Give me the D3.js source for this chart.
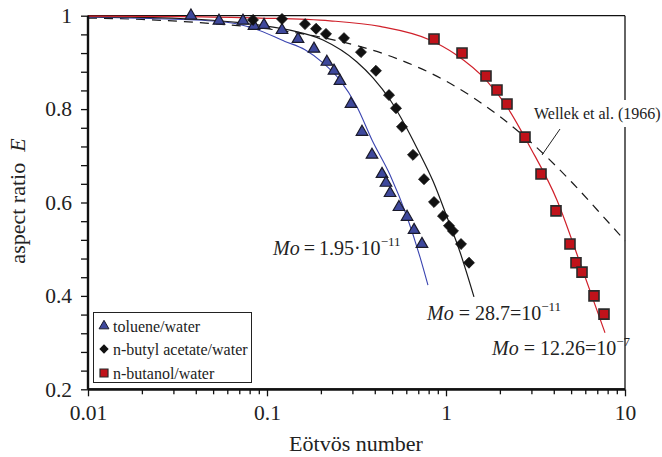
<!DOCTYPE html>
<html><head><meta charset="utf-8">
<script src="https://cdn.jsdelivr.net/npm/d3@7"></script>
<style>
body{margin:0;background:#fff} svg{display:block}
svg text{font-family:"Liberation Serif","Tinos","Times New Roman","DejaVu Serif",serif;}
</style>
</head><body><svg id="c" width="662" height="457"></svg>
<script>
// ---- data ----
const tolueneEo = [0.0376,0.0539,0.0734,0.0846,0.0962,0.1213,0.149,0.183,0.216,0.2367,0.2557,0.2946,0.3394,0.386,0.439,0.462,0.487,0.546,0.606,0.663,0.734];
const tolueneE  = [1.0,0.989,0.989,0.978,0.980,0.969,0.950,0.929,0.901,0.882,0.860,0.811,0.751,0.702,0.661,0.642,0.620,0.590,0.569,0.541,0.511];
const acetateEo = [0.0835,0.1213,0.163,0.188,0.2136,0.2693,0.335,0.406,0.4805,0.5256,0.5677,0.654,0.7536,0.857,0.962,1.039,1.094,1.213,1.344];
const acetateE  = [0.991,0.993,0.982,0.972,0.961,0.952,0.922,0.882,0.830,0.802,0.762,0.702,0.650,0.601,0.571,0.550,0.539,0.511,0.471];
const butanolEo = [0.857,1.229,1.673,1.927,2.192,2.763,3.395,4.117,4.928,5.324,5.753,6.712,7.633];
const butanolE  = [0.950,0.920,0.871,0.841,0.811,0.740,0.661,0.582,0.511,0.471,0.451,0.400,0.361];

const fitTolueneEo = [0.01,0.0222,0.0532,0.0825,0.126,0.163,0.2055,0.2557,0.318,0.386,0.487,0.606,0.716,0.793];
const fitTolueneE  = [0.997,0.994,0.988,0.974,0.945,0.927,0.899,0.862,0.805,0.734,0.659,0.569,0.483,0.423];
const fitAcetateEo = [0.01,0.0327,0.0707,0.1344,0.2055,0.318,0.391,0.487,0.590,0.698,0.846,1.013,1.197,1.433];
const fitAcetateE  = [0.998,0.994,0.985,0.969,0.948,0.901,0.867,0.820,0.766,0.712,0.646,0.569,0.494,0.398];
const fitButanolEo = [0.01,0.0327,0.0914,0.2249,0.428,0.814,1.123,1.694,2.192,2.946,4.17,5.605,7.733];
const fitButanolE  = [0.999,0.998,0.995,0.989,0.977,0.948,0.918,0.860,0.805,0.719,0.605,0.471,0.321];
const wellekEo = [0.01,0.02,0.05,0.1,0.2,0.5,1,2,3,5,7,10];
const wellekE  = [0.995,0.992,0.983,0.972,0.954,0.912,0.860,0.784,0.728,0.645,0.584,0.518];

const xMajorTicks = [0.01,0.1,1,10];
const xMajorLabels = ["0.01","0.1","1","10"];
const xMinorTicks = [0.02,0.03,0.04,0.05,0.06,0.07,0.08,0.09,0.2,0.3,0.4,0.5,0.6,0.7,0.8,0.9,2,3,4,5,6,7,8,9];
const yMajorTicks = [0.2,0.4,0.6,0.8,1];
const yMajorLabels = ["0.2","0.4","0.6","0.8","1"];
const yMinorTicks = [0.24,0.28,0.32,0.36,0.44,0.48,0.52,0.56,0.64,0.68,0.72,0.76,0.84,0.88,0.92,0.96];
const legendLabels = ["toluene/water","n-butyl acetate/water","n-butanol/water"];

// ---- drawing ----
const svg = d3.select("#c");
const L = 88, R = 625, T = 15.7, B = 389.3;
const x = d3.scaleLog().domain([0.01,10]).range([L,R]);
const y = d3.scaleLinear().domain([0.2,1]).range([B,T]);

// frame (top & right)
svg.append("line").attr("x1",L).attr("x2",R).attr("y1",T).attr("y2",T).attr("stroke","#111").attr("stroke-width",1.3);
svg.append("line").attr("x1",R).attr("x2",R).attr("y1",T).attr("y2",B).attr("stroke","#111").attr("stroke-width",1.3);

// curves
const line = d3.line().x(d=>x(d[0])).y(d=>y(d[1])).curve(d3.curveMonotoneX);
const zip = (a,b)=>a.map((v,i)=>[v,b[i]]);
svg.append("path").attr("d",line(zip(wellekEo,wellekE))).attr("fill","none").attr("stroke","#1a1a1a").attr("stroke-width",1.2).attr("stroke-dasharray","9,7");
svg.append("path").attr("d",line(zip(fitTolueneEo,fitTolueneE))).attr("fill","none").attr("stroke","#3a44b0").attr("stroke-width",1.1);
svg.append("path").attr("d",line(zip(fitAcetateEo,fitAcetateE))).attr("fill","none").attr("stroke","#1a1a1a").attr("stroke-width",1.2);
svg.append("path").attr("d",line(zip(fitButanolEo,fitButanolE))).attr("fill","none").attr("stroke","#d0202a").attr("stroke-width",1.2);

// axes
const yMinor = svg.append("g").attr("transform",`translate(${L},0)`)
  .call(d3.axisLeft(y).tickValues(yMinorTicks).tickSize(7).tickFormat(""));
const yMajor = svg.append("g").attr("transform",`translate(${L},0)`)
  .call(d3.axisLeft(y).tickValues(yMajorTicks).tickSize(7).tickPadding(9).tickFormat((d,i)=>yMajorLabels[i]));
const xMinor = svg.append("g").attr("transform",`translate(0,${B})`)
  .call(d3.axisBottom(x).tickValues(xMinorTicks).tickSize(5).tickFormat(""));
const xMajor = svg.append("g").attr("transform",`translate(0,${B})`)
  .call(d3.axisBottom(x).tickValues(xMajorTicks).tickSize(7).tickPadding(8).tickFormat((d,i)=>xMajorLabels[i]));
[yMinor,yMajor,xMinor,xMajor].forEach(g=>{
  g.attr("font-family",null).attr("font-size",null);
  g.selectAll(".domain").attr("stroke","#111").attr("stroke-width",2.2);
  g.selectAll(".tick line").attr("stroke","#111").attr("stroke-width",1.3);
  g.selectAll("text").attr("font-size",21.5).attr("fill","#222");
});
yMinor.select(".domain").attr("d",`M0,${T}V${B}`);
xMinor.select(".domain").attr("d",`M${L},0H${R}`);
yMajor.select(".domain").attr("d",`M0,${T}V${B}`);
xMajor.select(".domain").attr("d",`M${L},0H${R}`);

// axis titles
svg.append("text").attr("x",356).attr("y",451).attr("text-anchor","middle")
  .attr("font-size",22).attr("fill","#222").text("Eötvös number");
const yt = svg.append("text").attr("transform","translate(25,201) rotate(-90)").attr("text-anchor","middle")
  .attr("font-size",22).attr("fill","#222");
yt.append("tspan").text("aspect ratio\u2002");
yt.append("tspan").attr("font-style","italic").text("E");

// markers
const triPath = d3.symbol().type(d3.symbolTriangle).size(58)();
const sqSmall = d3.symbol().type(d3.symbolSquare).size(60)();
const sqPath = d3.symbol().type(d3.symbolSquare).size(100)();
svg.append("g").selectAll("path").data(zip(tolueneEo,tolueneE)).join("path")
  .attr("d",triPath).attr("transform",d=>`translate(${x(d[0])},${y(d[1])})`)
  .attr("fill","#3e489c").attr("stroke","#1a1a2a").attr("stroke-width",1.2);
svg.append("g").selectAll("path").data(zip(acetateEo,acetateE)).join("path")
  .attr("d",sqSmall).attr("transform",d=>`translate(${x(d[0])},${y(d[1])}) rotate(45)`)
  .attr("fill","#111").attr("stroke","#111").attr("stroke-width",0.8);
svg.append("g").selectAll("path").data(zip(butanolEo,butanolE)).join("path")
  .attr("d",sqPath).attr("transform",d=>`translate(${x(d[0])},${y(d[1])})`)
  .attr("fill","#c0121a").attr("stroke","#2a2a2a").attr("stroke-width",1.6);

// annotations
function moLabel(px, py, value, exp){
  const t = svg.append("text").attr("x",px).attr("y",py).attr("font-size",20).attr("fill","#222");
  t.append("tspan").attr("font-style","italic").text("Mo");
  t.append("tspan").text(value);
  t.append("tspan").attr("font-size",13).attr("dy",-9).text(exp);
}
moLabel(273,255,"\u2009=\u20091.95\u00b710","\u221211");
moLabel(427,320," = 28.7=10","\u221211");
moLabel(492,355," = 12.26=10","\u22127");

svg.append("rect").attr("x",532).attr("y",100).attr("width",130).attr("height",27).attr("fill","#fff");
svg.append("text").attr("x",534).attr("y",119).attr("font-size",16).attr("fill","#222").text("Wellek et al. (1966)");
svg.append("line").attr("x1",560).attr("y1",129).attr("x2",542).attr("y2",155).attr("stroke","#222").attr("stroke-width",1);

// legend
const lg = svg.append("g");
lg.append("rect").attr("x",93.5).attr("y",312.5).attr("width",158).attr("height",70).attr("fill","#fff").attr("stroke","#222").attr("stroke-width",1);
const legRows = [326,349,373];
lg.append("path").attr("d",d3.symbol().type(d3.symbolTriangle).size(42)()).attr("transform",`translate(104,${legRows[0]})`)
  .attr("fill","#3e489c").attr("stroke","#1a1a2a").attr("stroke-width",1);
lg.append("path").attr("d",d3.symbol().type(d3.symbolSquare).size(44)()).attr("transform",`translate(104,${legRows[1]}) rotate(45)`)
  .attr("fill","#111");
lg.append("path").attr("d",d3.symbol().type(d3.symbolSquare).size(64)()).attr("transform",`translate(104,${legRows[2]})`)
  .attr("fill","#c0121a").attr("stroke","#2a2a2a").attr("stroke-width",1.2);
legendLabels.forEach((s,i)=>{
  lg.append("text").attr("x",113).attr("y",legRows[i]).attr("dy","0.35em").attr("font-size",16).attr("fill","#222").text(s);
});
</script></body></html>
